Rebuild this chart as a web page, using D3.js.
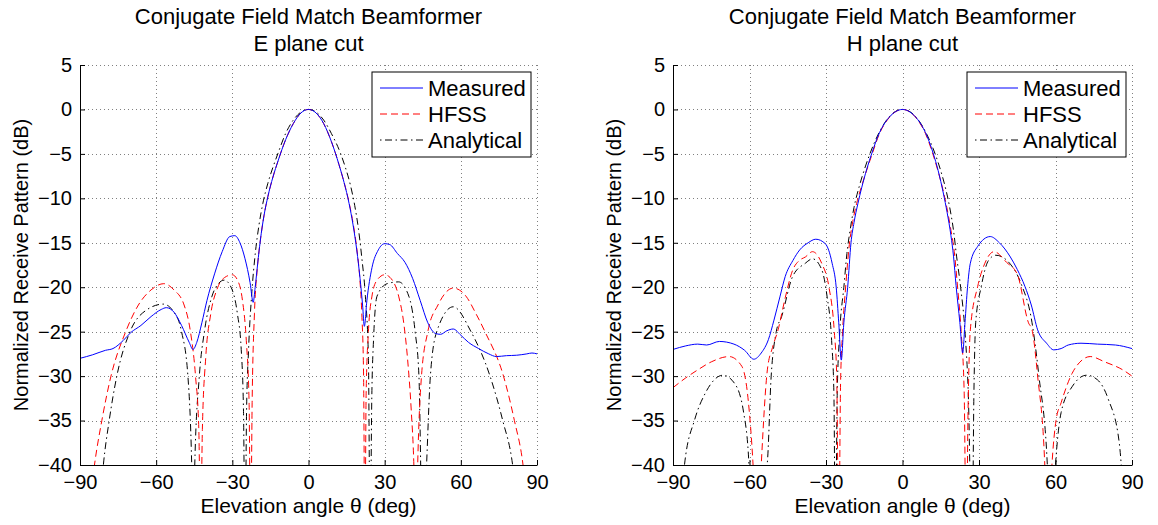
<!DOCTYPE html>
<html>
<head>
<meta charset="utf-8">
<script src="https://cdn.jsdelivr.net/npm/d3@7"></script>
<style>
  body { margin: 0; background: #fff; }
  svg text { font-family: "Liberation Sans", Arial, sans-serif; fill: #000; }
</style>
</head>
<body>
<div id="chart"></div>
<script>
/* DATA */
const xTicks = [-90, -60, -30, 0, 30, 60, 90];
const yTicks = [5, 0, -5, -10, -15, -20, -25, -30, -35, -40];
const legendNames = ["Measured", "HFSS", "Analytical"];

// E plane cut
const eMeasAng = [-90, -85, -80, -77, -73, -70, -66, -62, -58, -56, -53, -50, -47, -45.5, -44, -42, -40, -37, -34, -31, -29, -27, -25, -23, -21.8, -21, -20, -19, -17.5, -16, -14, -12, -9, -6, -3, 0, 3, 6, 9, 12, 14, 16, 17.5, 19, 20.3, 21.3, 22, 23, 25, 27.5, 30, 32, 35, 38, 41, 44, 47, 50, 52, 54.5, 57, 60, 63, 67, 71, 74, 78, 82, 86, 88, 90];
const eMeasVal = [-28.0, -27.6, -27.1, -26.9, -26.0, -25.1, -24.3, -23.3, -22.5, -22.3, -22.8, -24.3, -26.2, -27.0, -26.2, -24.0, -21.5, -18.5, -16.0, -14.3, -14.2, -15.0, -16.8, -19.5, -21.7, -20.0, -17.3, -14.8, -11.9, -9.8, -7.6, -5.8, -3.4, -1.6, -0.4, 0, -0.4, -1.6, -3.6, -6.2, -8.2, -10.6, -12.9, -15.8, -19.0, -22.0, -24.4, -21.5, -17.8, -15.8, -15.1, -15.2, -16.2, -17.2, -19.0, -21.5, -24.0, -25.2, -25.3, -24.9, -24.7, -25.4, -26.2, -26.9, -27.5, -27.8, -27.7, -27.65, -27.5, -27.4, -27.5];

const eHfssAng = [-86, -84.3, -81.4, -77.8, -72, -67, -62, -57, -53, -49, -46.5, -44.5, -43.2, -42.5, -41.8, -40.5, -38.5, -36, -33, -30, -27.5, -26, -24.5, -23.4, -22.8, -22.2, -21.3, -20.2, -19, -17.5, -16, -14, -12, -9, -6, -3, 0, 3, 6, 9, 12, 14, 16, 17.5, 19, 20.2, 21, 21.7, 22.2, 22.7, 23.6, 25, 27, 30, 33, 35.5, 37.5, 39, 40.5, 41.5, 42.3, 43, 44.5, 47, 51, 57, 62, 66, 69.5, 76.8, 81.1, 84.5, 86];
const eHfssVal = [-44, -40, -35, -30, -25, -22, -20.3, -19.6, -20.3, -22, -25, -30, -36, -48, -36, -28, -23, -20.2, -18.9, -18.6, -19.5, -21.5, -26, -33, -50, -33, -23, -18, -14.8, -11.9, -9.8, -7.6, -5.8, -3.4, -1.6, -0.4, 0, -0.4, -1.6, -3.6, -6.2, -8.2, -10.5, -12.7, -15.6, -19, -23, -30, -50, -32, -25, -21, -19.2, -18.6, -19.2, -21, -24, -28, -34, -40, -50, -40, -30, -25, -22, -20.1, -21, -23, -25, -30, -35, -40, -44];

const eAnaAng = [-82, -80.8, -78.5, -75.5, -70.3, -64, -57.2, -53, -50, -47.5, -46, -45.3, -44.8, -43, -41, -38, -35.5, -33.2, -30.5, -28, -26.5, -25.6, -25, -24.4, -23.6, -22.3, -21, -19.5, -18, -16, -14, -12.1, -9, -6, -3, 0, 3, 6, 9, 12.7, 14.5, 16.5, 18.2, 19.7, 21, 22.4, 23.6, 24.3, 24.9, 25.6, 27, 31, 35.5, 39.5, 42, 43.5, 45, 46.5, 48, 50.5, 57, 64, 71.5, 76.5, 80.4, 82];
const eAnaVal = [-44, -40, -35, -30, -25, -22.6, -21.9, -22.8, -25, -30, -40, -50, -40, -30, -25, -21, -19.6, -19.2, -20, -23, -27, -34, -50, -34, -27, -20.5, -16.3, -13, -10.6, -8.3, -6.5, -5, -2.7, -1.2, -0.3, 0, -0.3, -1.2, -2.7, -5, -6.5, -8.5, -10.8, -13.5, -16.7, -21, -28, -50, -33, -26, -21, -19.6, -19.4, -21, -25, -30, -50, -40, -30, -25, -22.2, -25, -30, -35, -40, -44];

// H plane cut
const hMeasAng = [-90, -85, -80.3, -76.8, -71.8, -66.1, -61.9, -58.3, -55.4, -52.6, -50.4, -48, -46, -43, -40.3, -37, -34, -30.3, -27.6, -26, -25, -24, -23, -21.5, -20.2, -19, -17.5, -16, -14, -12, -9, -6, -3, 0, 3, 6, 9, 12, 14, 16, 17.5, 19, 20, 21, 22.5, 23.6, 24.5, 25.5, 26.6, 29.5, 34.4, 38, 42.3, 45, 48, 50.5, 53, 56.5, 59.3, 62.2, 65, 70, 76.4, 83.5, 90];
const hMeasVal = [-27.0, -26.6, -26.4, -26.5, -26.1, -26.4, -27.1, -28.1, -27.4, -25.9, -23.7, -21.0, -18.8, -17.0, -15.8, -15.0, -14.6, -15.1, -17.3, -20.0, -24.0, -28.2, -24.0, -20.0, -15.0, -12.7, -10.6, -8.8, -6.7, -4.9, -2.6, -1.15, -0.3, 0, -0.3, -1.15, -2.6, -4.9, -6.9, -9.4, -11.6, -14.2, -16.5, -19.8, -24.0, -27.4, -24.0, -20.0, -17.3, -15.4, -14.3, -15.0, -16.6, -18.0, -19.9, -22.0, -24.8, -26.3, -27.05, -26.9, -26.5, -26.3, -26.4, -26.5, -26.9];

const hHfssAng = [-90, -85, -80.3, -75, -68, -63, -60.4, -58.6, -57, -55.4, -53, -51, -48.8, -46, -43.1, -40.5, -38.1, -35.3, -31.7, -28.9, -26.8, -25.8, -25, -24.3, -23.5, -22.3, -21, -19.5, -18, -16, -14, -12, -9, -6, -3, 0, 3, 6, 9, 12, 14, 16, 17.5, 19, 20.3, 21.6, 23, 24.2, 25, 25.7, 26.6, 29.5, 32.3, 35.9, 40.8, 45.1, 49.4, 50.8, 53, 55.8, 57, 58.6, 60.2, 62.2, 66.5, 70, 73.6, 79.3, 86.4, 90];
const hHfssVal = [-31.3, -30.2, -29.3, -28.4, -27.8, -28.9, -33, -40, -50, -40, -29.3, -26.8, -24.8, -21.2, -18.1, -17.0, -16.6, -16.0, -17.3, -19.9, -24.8, -30, -50, -31, -25, -20, -15.6, -12.6, -10.6, -8.6, -6.8, -5.1, -2.7, -1.2, -0.3, 0, -0.3, -1.2, -2.7, -5.1, -7.0, -9.2, -11.2, -13.6, -16, -20, -25, -32, -50, -34, -24.8, -19.9, -17.3, -16.0, -17.2, -18.6, -24, -24.8, -30, -40, -50, -40, -35, -33, -29.7, -28.3, -27.8, -28.4, -29.3, -30.0];

const hAnaAng = [-86.5, -85.5, -81.5, -77.3, -70.4, -65.9, -62.3, -60.2, -59, -57, -55, -53.1, -51.5, -49.5, -47.4, -43.1, -38.1, -35.3, -31.7, -29.6, -27.8, -26.9, -26.3, -25.6, -24.6, -23, -21.8, -20.5, -19, -17, -15, -12.8, -9, -6, -3, 0, 3, 6, 9, 12.8, 15, 17, 18.5, 20, 21.2, 22.8, 24.5, 25.8, 27.3, 28, 28.7, 30.9, 33.7, 36.6, 42.3, 46.5, 50.8, 53.5, 56.8, 58.2, 60, 62.2, 66.5, 72.2, 76.4, 80.7, 85, 85.8, 86.8];
const hAnaVal = [-44, -40, -34.9, -31.9, -29.9, -30.8, -34.1, -40, -50, -43, -42, -40, -30, -25, -23.3, -18.8, -17.3, -16.8, -18.0, -21.0, -26, -32, -50, -32, -25, -20, -16.2, -13.5, -11, -8.7, -6.8, -5, -2.5, -1.1, -0.27, 0, -0.27, -1.1, -2.5, -5, -6.9, -9.0, -11, -13.6, -16.5, -20, -25, -32, -50, -32, -24, -19.9, -17.0, -16.4, -17.4, -19.6, -24, -30, -40, -50, -40, -34.1, -31.2, -29.9, -30.4, -32.6, -37.5, -40, -44];

const panels = [
  { title: "E plane cut", left: 80, right: 537,
    series: [[eMeasAng, eMeasVal], [eHfssAng, eHfssVal], [eAnaAng, eAnaVal]] },
  { title: "H plane cut", left: 673, right: 1132,
    series: [[hMeasAng, hMeasVal], [hHfssAng, hHfssVal], [hAnaAng, hAnaVal]] }
];

/* CONSTANTS */
const width = 1158, height = 525;
const plotTop = 65, plotBottom = 465;
const styles = [
  { color: "#0000ff", dash: null },
  { color: "#ff0000", dash: "7,4" },
  { color: "#000000", dash: "1.5,3.5,7,3.5" }
];

const svg = d3.select("#chart").append("svg")
  .attr("width", width)
  .attr("height", height);

const yScale = d3.scaleLinear().domain([-40, 5]).range([plotBottom, plotTop]);

panels.forEach((p, i) => {
  const xScale = d3.scaleLinear().domain([-90, 90]).range([p.left, p.right]);
  const g = svg.append("g");
  const cx = (p.left + p.right) / 2;

  // grid (dotted)
  g.append("g").selectAll("line")
    .data(xTicks.filter(d => d !== -90))
    .join("line")
    .attr("x1", d => Math.round(xScale(d)) + 0.5).attr("x2", d => Math.round(xScale(d)) + 0.5)
    .attr("y1", plotTop).attr("y2", plotBottom)
    .attr("stroke", "#808080").attr("stroke-width", 1).attr("stroke-dasharray", "1,3");
  g.append("g").selectAll("line")
    .data(yTicks.filter(d => d !== -40))
    .join("line")
    .attr("y1", d => Math.round(yScale(d)) + 0.5).attr("y2", d => Math.round(yScale(d)) + 0.5)
    .attr("x1", p.left).attr("x2", p.right)
    .attr("stroke", "#808080").attr("stroke-width", 1).attr("stroke-dasharray", "1,3");

  // clip
  g.append("clipPath").attr("id", "clip" + i)
    .append("rect")
    .attr("x", p.left).attr("y", plotTop)
    .attr("width", p.right - p.left).attr("height", plotBottom - plotTop);

  const lineGen = d3.line()
    .x(d => xScale(d[0]))
    .y(d => yScale(d[1]))
    .curve(d3.curveMonotoneX);

  const lines = g.append("g").attr("clip-path", `url(#clip${i})`);
  // analytical first, measured on top
  [2, 1, 0].forEach(k => {
    const [ang, val] = p.series[k];
    const pts = ang.map((a, j) => [a, val[j]]);
    lines.append("path")
      .datum(pts)
      .attr("fill", "none")
      .attr("stroke", styles[k].color)
      .attr("stroke-width", 1)
      .attr("stroke-dasharray", styles[k].dash)
      .attr("d", lineGen);
  });

  // axes
  const xAxis = d3.axisBottom(xScale).tickValues(xTicks).tickSizeInner(-5).tickSizeOuter(0).tickPadding(10);
  const yAxis = d3.axisLeft(yScale).tickValues(yTicks).tickSizeInner(-5).tickSizeOuter(0).tickPadding(8);

  const xg = g.append("g")
    .attr("transform", `translate(0, ${plotBottom})`)
    .call(xAxis);
  const yg = g.append("g")
    .attr("transform", `translate(${p.left}, 0)`)
    .call(yAxis);
  [xg, yg].forEach(a => {
    a.select(".domain").attr("stroke", "#000");
    a.selectAll(".tick line").attr("stroke", "#000");
    a.selectAll("text").attr("font-size", 20).attr("font-family", "Liberation Sans, Arial, sans-serif");
  });

  // titles and labels
  g.append("text").attr("x", cx).attr("y", 24)
    .attr("text-anchor", "middle").attr("font-size", 22)
    .text("Conjugate Field Match Beamformer");
  g.append("text").attr("x", cx).attr("y", 51)
    .attr("text-anchor", "middle").attr("font-size", 22)
    .text(p.title);
  g.append("text").attr("x", cx).attr("y", 513)
    .attr("text-anchor", "middle").attr("font-size", 21)
    .text("Elevation angle θ (deg)");
  g.append("text")
    .attr("transform", `translate(${p.left - 52}, ${(plotTop + plotBottom) / 2}) rotate(-90)`)
    .attr("text-anchor", "middle").attr("font-size", 20)
    .text("Normalized Receive Pattern (dB)");

  // legend
  const lx = p.right - 165, ly = 72;
  const leg = g.append("g").attr("transform", `translate(${lx}, ${ly})`);
  leg.append("rect")
    .attr("width", 159).attr("height", 85)
    .attr("fill", "#fff").attr("stroke", "#000").attr("stroke-width", 1);
  legendNames.forEach((name, k) => {
    const yy = 16 + k * 26;
    leg.append("line")
      .attr("x1", 8).attr("x2", 51).attr("y1", yy).attr("y2", yy)
      .attr("stroke", styles[k].color).attr("stroke-width", 1)
      .attr("stroke-dasharray", styles[k].dash);
    leg.append("text")
      .attr("x", 56).attr("y", yy).attr("dy", "0.36em")
      .attr("font-size", 22)
      .text(name);
  });
});
</script>
</body>
</html>
